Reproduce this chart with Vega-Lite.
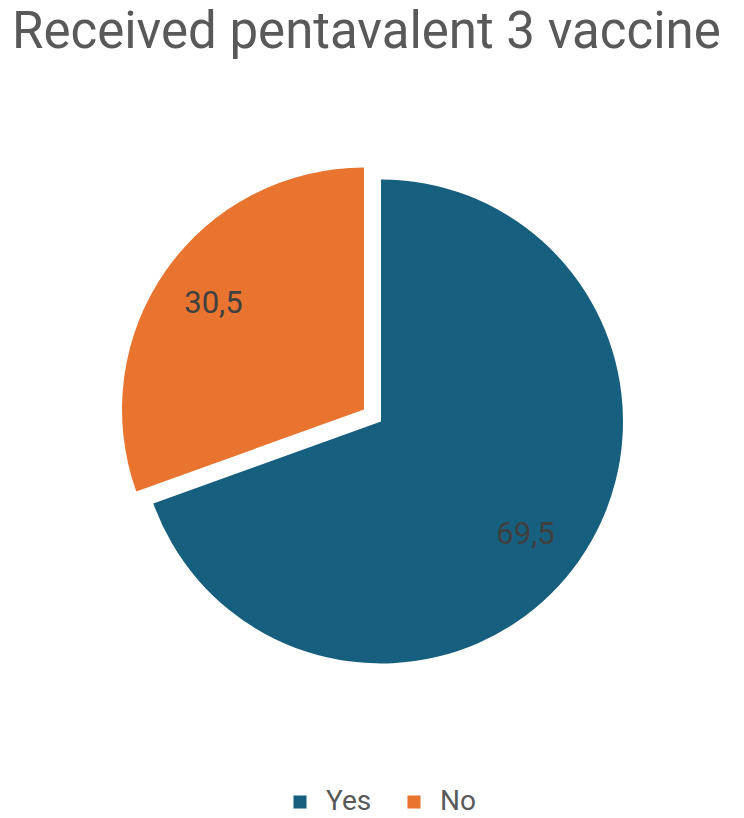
{
  "$schema": "https://vega.github.io/schema/vega-lite/v6.json",
  "autosize": {"type": "fit", "contains": "padding"},
  "width": 744,
  "height": 818,
  "padding": {"left": 12, "right": 0, "top": 7, "bottom": 2},
  "background": "white",
  "title": {
    "text": "Received pentavalent 3 vaccine",
    "anchor": "start",
    "frame": "bounds",
    "fontSize": 51,
    "font": "Roboto",
    "fontWeight": "normal",
    "color": "#595959",
    "dx": -6,
    "offset": 10
  },
  "data": {
    "values": [
      {"answer": "Yes", "value": 69.5, "label": "69,5"},
      {"answer": "No", "value": 30.5, "label": "30,5"}
    ]
  },
  "encoding": {
    "theta": {"field": "value", "type": "quantitative", "stack": true},
    "order": {"field": "value", "sort": "descending"},
    "color": {
      "field": "answer",
      "type": "nominal",
      "scale": {"domain": ["Yes", "No"], "range": ["#175f7e", "#e8742f"]},
      "legend": {
        "orient": "bottom",
        "direction": "horizontal",
        "title": null,
        "symbolType": "square",
        "symbolSize": 170,
        "symbolStrokeWidth": 0,
        "labelFontSize": 28,
        "labelFont": "Roboto",
        "labelColor": "#595959",
        "columnPadding": 28,
        "labelOffset": 12,
        "offset": 14
      }
    }
  },
  "layer": [
    {
      "mark": {"type": "arc", "outerRadius": 242},
      "encoding": {
        "opacity": {"condition": {"test": "datum.answer === 'No'", "value": 0}, "value": 1}
      }
    },
    {
      "mark": {"type": "arc", "outerRadius": 242, "xOffset": -17, "yOffset": -12},
      "encoding": {
        "opacity": {"condition": {"test": "datum.answer === 'Yes'", "value": 0}, "value": 1}
      }
    },
    {
      "mark": {"type": "text", "radius": 184, "fontSize": 31, "font": "Roboto", "color": "#404040", "dy": 8, "dx": -6},
      "encoding": {
        "text": {"field": "label"},
        "color": {"value": "#404040"},
        "opacity": {"condition": {"test": "datum.answer === 'No'", "value": 0}, "value": 1}
      }
    },
    {
      "mark": {"type": "text", "radius": 184, "fontSize": 31, "font": "Roboto", "color": "#404040", "xOffset": -17, "yOffset": -12},
      "encoding": {
        "text": {"field": "label"},
        "color": {"value": "#404040"},
        "opacity": {"condition": {"test": "datum.answer === 'Yes'", "value": 0}, "value": 1}
      }
    }
  ],
  "config": {
    "view": {"stroke": null},
    "legend": {"layout": {"bottom": {"anchor": "middle"}}}
  }
}
